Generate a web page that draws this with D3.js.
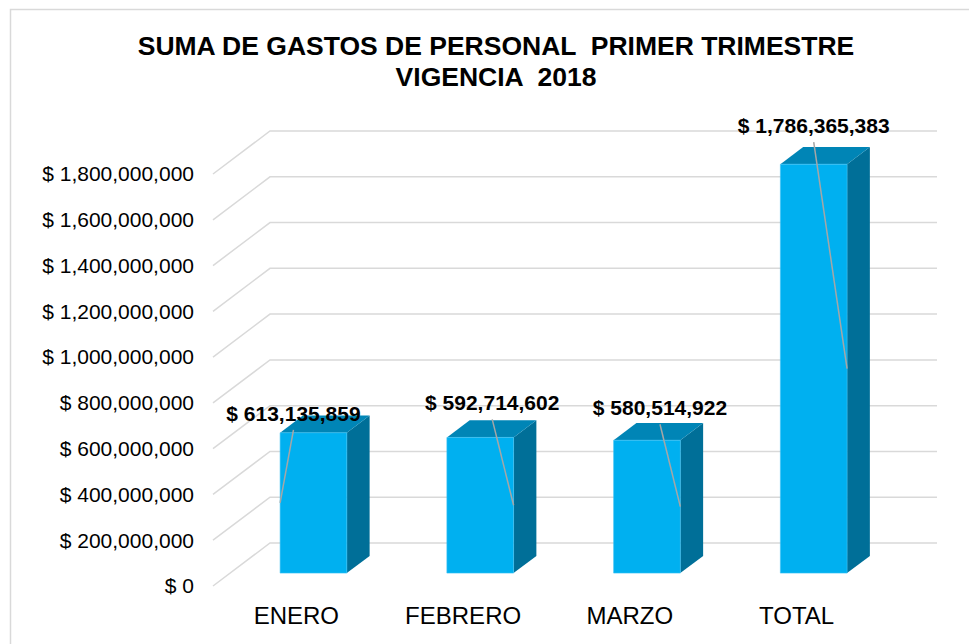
<!DOCTYPE html>
<html><head><meta charset="utf-8">
<script src="https://cdn.jsdelivr.net/npm/d3@7"></script>
<style>html,body{margin:0;padding:0;background:#fff;}svg{display:block;} text{white-space:pre;}</style>
</head><body>
<script>
const categories = ["ENERO", "FEBRERO", "MARZO", "TOTAL"];
const values = [613135859, 592714602, 580514922, 1786365383];
const tickValues = [0, 200000000, 400000000, 600000000, 800000000, 1000000000, 1200000000, 1400000000, 1600000000, 1800000000];
const titleLines = ["SUMA DE GASTOS DE PERSONAL  PRIMER TRIMESTRE", "VIGENCIA  2018"];
// manual label nudges (layout, not data): [dx, dy] from bar front-top centre
const labelNudge = [[-20, -12], [12, -27], [13, -25], [0, -31]];

const W = 969, H = 644;
const svg = d3.select("body").append("svg").attr("width", W).attr("height", H);
const font = "Arial, 'Liberation Sans', sans-serif";

svg.append("rect").attr("x", 10.5).attr("y", 9.5).attr("width", 1000).attr("height", 700)
  .attr("fill", "#fff").attr("stroke", "#d9d9d9").attr("stroke-width", 1.5);

// back-wall scales
const y = d3.scaleLinear().domain([0, 1800000000]).range([543, 131]);
const x = d3.scaleBand().domain(categories).range([270, 937]).paddingInner(0.6).paddingOuter(0.3);
const DX = -57, DY = 43; // depth projection (front = d 1)
const P = (xb, v, d) => [xb + DX * d, y(v) + DY * d];

// gridlines (wall + floor diagonal)
const grid = svg.append("g");
tickValues.forEach(t => {
  const a = P(270, t, 1), b = P(270, t, 0), c = P(937, t, 0);
  grid.append("path").attr("d", `M${a[0]},${a[1]}L${b[0]},${b[1]}L${c[0]},${c[1]}`)
    .attr("fill", "none").attr("stroke", "#d9d9d9").attr("stroke-width", 1.5);
});

// y tick labels
const fmt = d3.format(",");
svg.append("g").selectAll("text").data(tickValues).join("text")
  .attr("x", 194).attr("y", d => P(270, d, 1)[1]).attr("dy", "0.35em")
  .attr("text-anchor", "end").attr("font-family", font).attr("font-size", 21).attr("fill", "#000")
  .text(d => "$ " + fmt(d));

// category labels
svg.append("g").selectAll("text").data(categories).join("text")
  .attr("x", d => P(x(d) + x.bandwidth() / 2, 0, 1)[0]).attr("y", 624)
  .attr("text-anchor", "middle").attr("font-family", font).attr("font-size", 24).attr("fill", "#000")
  .text(d => d);

// bars
const d0 = 0.3, d1 = 0.7;
const poly = pts => "M" + pts.map(p => p.join(",")).join("L") + "Z";
const bars = svg.append("g");
categories.forEach((c, i) => {
  const v = values[i], xl = x(c), xr = xl + x.bandwidth();
  bars.append("path").attr("d", poly([P(xr, 0, d1), P(xr, v, d1), P(xr, v, d0), P(xr, 0, d0)]))
    .attr("fill", "#006f98");
  bars.append("path").attr("d", poly([P(xl, v, d1), P(xr, v, d1), P(xr, v, d0), P(xl, v, d0)]))
    .attr("fill", "#0085b6");
  bars.append("path").attr("d", poly([P(xl, 0, d1), P(xr, 0, d1), P(xr, v, d1), P(xl, v, d1)]))
    .attr("fill", "#00b0f0").attr("stroke", "#3cc3f5").attr("stroke-width", 0.6);
});

// data labels with leader lines
const lab = svg.append("g");
categories.forEach((c, i) => {
  const v = values[i], xl = x(c), xr = xl + x.bandwidth();
  const fl = P(xl, v, d1), fr = P(xr, 0, d1);
  const cx = (fl[0] + fr[0]) / 2;
  const lx = cx + labelNudge[i][0], ly = fl[1] + labelNudge[i][1];
  const ex = lx < cx ? fl[0] : fr[0];
  const ey = (fl[1] + fr[1]) / 2;
  lab.append("line").attr("x1", lx).attr("y1", ly + 9).attr("x2", ex).attr("y2", ey)
    .attr("stroke", "#a6a6a6").attr("stroke-width", 1.5);
  lab.append("text").attr("x", lx).attr("y", ly).attr("text-anchor", "middle")
    .attr("font-family", font).attr("font-size", 21).attr("font-weight", "bold").attr("fill", "#000")
    .text("$ " + fmt(v));
});

// title
svg.append("g").selectAll("text").data(titleLines).join("text")
  .attr("x", 496).attr("y", (d, i) => 55 + i * 31).attr("text-anchor", "middle")
  .attr("font-family", font).attr("font-size", 26.5).attr("font-weight", "bold").attr("fill", "#000")
  .text(d => d);
</script>
</body></html>
